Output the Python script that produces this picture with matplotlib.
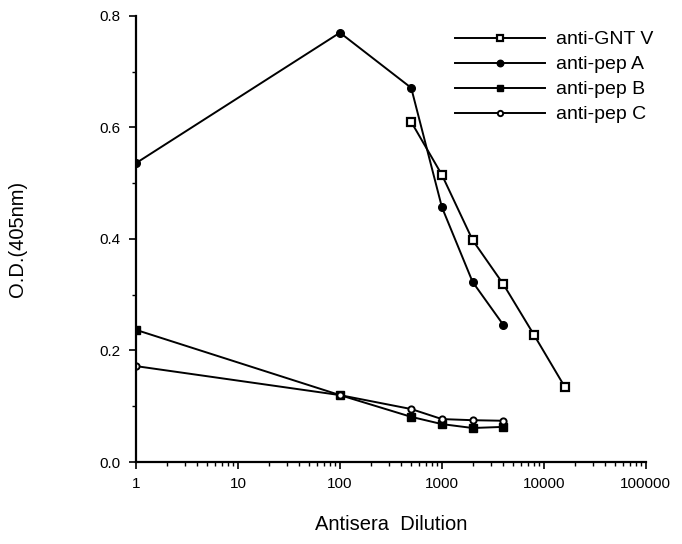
import numpy as np
import matplotlib
matplotlib.use("Agg")
import matplotlib.pyplot as plt
from matplotlib.ticker import FixedLocator, LogLocator, NullFormatter, MultipleLocator

plt.rcParams["font.family"] = ["Liberation Sans", "DejaVu Sans"]

# Valores
gnt_x = [500, 1000, 2000, 4000, 8000, 16000]
gnt_y = [0.61, 0.515, 0.398, 0.319, 0.228, 0.135]

pepA_x = [1, 100, 500, 1000, 2000, 4000]
pepA_y = [0.536, 0.77, 0.671, 0.457, 0.323, 0.246]

pepB_x = [1, 100, 500, 1000, 2000, 4000]
pepB_y = [0.237, 0.12, 0.081, 0.068, 0.061, 0.063]

pepC_x = [1, 100, 500, 1000, 2000, 4000]
pepC_y = [0.172, 0.12, 0.095, 0.077, 0.075, 0.074]

xticks = [1, 10, 100, 1000, 10000, 100000]
xtick_labels = ["1", "10", "100", "1000", "10000", "100000"]
yticks = [0.0, 0.2, 0.4, 0.6, 0.8]

fig = plt.figure(figsize=(6.82, 5.44), dpi=100)
ax = fig.add_axes([0.1994, 0.1507, 0.7476, 0.82])

lw = 1.4
ax.plot(gnt_x, gnt_y, "-", color="black", lw=lw, marker="s", ms=5.5,
        mfc="white", mec="black", mew=1.6, label="anti-GNT V")
ax.plot(pepA_x, pepA_y, "-", color="black", lw=lw, marker="o", ms=5.5,
        mfc="black", mec="black", label="anti-pep A")
ax.plot(pepB_x, pepB_y, "-", color="black", lw=lw, marker="s", ms=5.5,
        mfc="black", mec="black", label="anti-pep B")
ax.plot(pepC_x, pepC_y, "-", color="black", lw=lw, marker="o", ms=4.5,
        mfc="white", mec="black", mew=1.4, label="anti-pep C")

ax.set_xscale("log")
ax.set_xlim(1, 100000)
ax.set_ylim(0, 0.8)
ax.xaxis.set_major_locator(FixedLocator(xticks))
ax.set_xticklabels(xtick_labels)
ax.xaxis.set_minor_locator(LogLocator(base=10, subs=np.arange(2, 10)))
ax.xaxis.set_minor_formatter(NullFormatter())
ax.set_yticks(yticks)
ax.set_yticklabels([f"{v:.1f}" for v in yticks])
ax.yaxis.set_minor_locator(MultipleLocator(0.1))

for s in ["top", "right"]:
    ax.spines[s].set_visible(False)
for s in ["left", "bottom"]:
    ax.spines[s].set_linewidth(1.6)
ax.tick_params(which="major", direction="out", length=5, width=1.2, labelsize=11, pad=6)
ax.tick_params(which="minor", direction="out", length=3, width=1.0)

ax.set_xlabel("Antisera  Dilution", fontsize=14.5, labelpad=17)
ax.set_ylabel("O.D.(405nm)", fontsize=14.5, labelpad=52)

leg = ax.legend(loc="upper right", bbox_to_anchor=(1.05, 1.006), frameon=False,
                fontsize=14, handlelength=4.6, handletextpad=0.6,
                labelspacing=0.38, markerscale=0.85)

fig.savefig("out.png", dpi=100)
